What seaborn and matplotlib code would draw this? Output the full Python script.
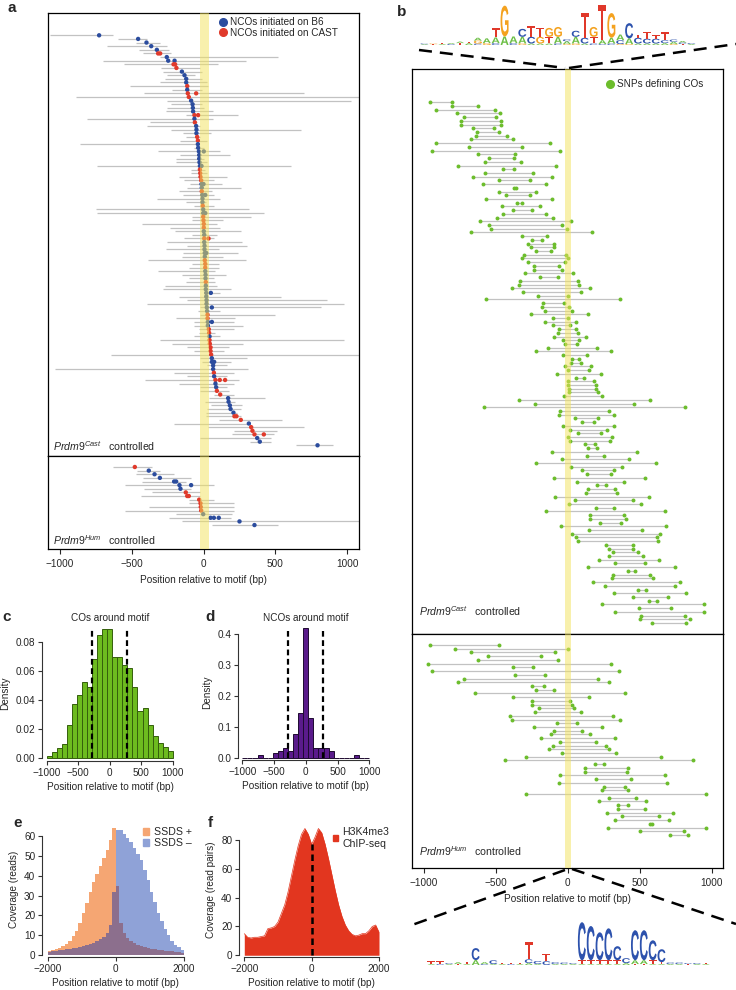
import numpy as np
import pandas as pd
import matplotlib
matplotlib.use("Agg")
import matplotlib.pyplot as plt
import seaborn as sns
from matplotlib.textpath import TextPath
from matplotlib.patches import PathPatch, Patch
from matplotlib.font_manager import FontProperties
from matplotlib.transforms import Affine2D
from matplotlib.lines import Line2D

# ---------------- DATA ----------------
# Panel a: NCO tracts, Prdm9 Cast (left bound, right bound, converted SNPs, initiating strain)
a_cast_left = [-1067, -595, -472, -669, -449, -421, -299, -697, -553, -292, -280, -252, -264, -299, -512, -218,
               -414, -889, -252, -229, -252, -257, -125, -808, -373, -391, -229, -141, -125, -160, -859, -67,
               -317, -160, -194, -190, -738, -90, -90, -171, -137, -95, -113, -171, -141, -322, -125, -67,
               -750, -738, -83, -79, -426, -234, -199, -79, -132, -252, -113, -257, -141, -150, -387, -79,
               -102, -317, -148, -102, -125, -264, -280, 2, -167, -113, -391, -21, -39, -21, -188, -67,
               -67, -32, -30, -67, -299, -218, -113, -67, -639, -25, -9, 25, -1028, -206, -113, -407,
               -171, -25, -21, 72, 39, 7, 49, 25, 14, 19, 106, -206, 30, 211, 199, -21, 326, 639]
a_cast_right = [-627, -391, -299, -252, -241, -229, 516, 292, 102, -21, -9, -56, -9, 25, 30, -9,
                701, 1086, 1026, -9, 2, 65, 238, 67, -44, -25, 678, 49, -21, 25, -44, 2,
                118, 183, 2, 25, 609, 7, 25, 160, 72, 127, 257, 60, 76, 113, 14, 72,
                315, 419, 331, 137, 95, 118, 257, 95, 72, 269, 303, 106, 238, 134, 292, 106,
                111, 83, 153, 72, 83, 95, 188, 113, 539, 859, 979, 813, 118, 500, 222, 211,
                275, 211, 83, 118, 975, 275, 176, 141, 1086, 299, 192, 164, 308, 211, 164, 245,
                211, 164, 176, 211, 424, 222, 269, 257, 234, 257, 542, 326, 697, 512, 488, 470, 470, 898]
a_cast_snps = [[-725], [-454], [-396], [-363], [-324], [-315, -301], [-255], [-245, -201], [-208, -197],
               [-188], [-150], [-132], [-120], [-120], [-113], [-113], [-109, -51], [-102], [-86], [-76],
               [-74], [-72], [-63, -37], [-63], [-60], [-51], [-49], [-49], [-44], [-39], [-39], [-37],
               [-32, 2], [-30], [-30], [-28], [-25, -14], [-25], [-23], [-21], [-16], [-14, 0], [-12],
               [-12], [-9, 12], [-7], [-7], [-5], [-2], [-2, 12], [-2], [0], [2], [2], [2], [5], [5, 35],
               [5], [7], [7], [9, 19], [9], [9], [12], [12], [12], [14], [14], [16], [16], [16], [19, 51],
               [19], [21], [21], [23, 58], [25], [28], [28], [30, 58], [30], [37], [39], [42], [42], [44],
               [49], [49], [53], [58], [58, 74], [67], [67], [72], [74], [83, 113, 150], [83], [88], [93],
               [116], [171], [174], [183], [188], [208], [215, 229], [259], [315], [331], [340], [354, 419],
               [373], [391], [792]]
a_cast_init = list("BBBBB" "C" "B" "B" "CC" "BBBB" "C" "B" "CC" "BBBB" "C" "B" "C" "BBB" "CC" "BBBBBBB"
                   "CCCC" "BB" "C" "BBB" "C" "BB" "CCCC" "BB" "C" "BBBBB" "CCC" "BBB" "C" "BBBBBBBB"
                   "CC" "BB" "CC" "B" "CCCCC" "BBBB" "C" "B" "C" "BB" "CC" "BBBBB" "CC" "B" "CCC" "BBB")

# Panel a: Prdm9 Hum
a_hum_left = [-627, -461, -472, -419, -426, -542, -414, -357, -433, -102, -102, -380, -546, -194, -241, -148, 60]
a_hum_right = [-361, -299, -206, -90, -125, 72, -90, -21, -21, 72, 211, 211, 211, 199, 188, 1086, 516]
a_hum_snps = [[-477], [-380], [-340], [-303], [-204, -190], [-167, -86], [-160], [-123], [-113, -102],
              [-30], [-21], [-19], [-16], [-2], [49, 72, 106], [250], [354]]
a_hum_init = list("CBBBBBBCCCCCCBBBB")

# Panel b: CO tracts (SNPs defining COs), Prdm9 Cast
b_cast_left = [-954, -803, -912, -769, -722, -741, -741, -655, -632, -637, -674, -912, -683, -945, -627, -544,
               -576, -762, -451, -576, -657, -479, -588, -375, -479, -428, -569, -350, -458, -382, -451, -495,
               -609, -546, -530, -669, -319, -248, -275, -257, -218, -303, -315, -278, -234, -232, -299, -194,
               -333, -336, -389, -310, -208, -567, -174, -178, -155, -259, -102, -157, -106, -63, -69, -95,
               -32, -21, -139, -220, -32, 32, 23, -21, -2, -72, 58, -2, 2, 5, 9, -23, -338, -229, -579,
               -51, -60, 53, 100, -32, 12, 69, -2, 16, 120, 139,
               -113, 134, -39, -222, 21, 100, 132, -95, 65, 204, 139, 127, -90, 51, 7, 197, -148, 155,
               155, 222, -49, 144, 30, 60, 72, 264, 285, 317, 287, 218, 326, 141, 417, 315, 306, 176,
               255, 491, 319, 451, 563, 238, 495, 326, 509, 502, 586]
b_cast_right = [-803, -627, -509, -472, -498, -461, -461, -514, -477, -419, -380, -123, -317, -51, -366, -375,
                -324, -79, -373, -241, -109, -264, -148, -359, -222, -266, -111, -315, -190, -252, -148, -100,
                21, -39, -7, 167, -144, -181, -97, -97, -116, -12, -2, -21, -60, -42, 35, -67,
                74, 76, 153, 90, -2, 363, -25, 7, 28, 137, -2, 58, 16, 56, 69, 125,
                76, 65, 206, 299, 134, 79, 90, 160, 144, 229, 113, 185, 197, 194, 208, 241, 569, 463, 817,
                289, 319, 213, 181, 319, 273, 229, 306, 294, 192, 204,
                484, 250, 424, 616, 375, 319, 301, 537, 389, 262, 326, 340, 567, 454, 505, 319, 674, 387,
                407, 370, 683, 514, 639, 618, 625, 451, 451, 488, 523, 630, 535, 743, 470, 572, 590, 782,
                748, 542, 820, 694, 620, 949, 718, 949, 813, 852, 824]

# Panel b: Prdm9 Hum
b_hum_left = [-958, -785, -669, -553, -623, -970, -380, -945, -368, -720, -762, -248, -222, -644, -382, -250,
              -248, -199, -225, -400, -389, -74, -234, -95, -120, -183, -51, -106, -134, -39, -289, -435,
              190, 120, 118, -53, 194, -58, 250, 236, -292, 287, 215, 352, 347, 269, 375, 326, 574, 280, 498, 711]
b_hum_right = [-475, 0, -90, -188, -67, 301, -245, 354, -160, 208, 285, -167, -97, 394, 150, 16,
               30, 42, 90, 315, 366, 65, 238, 100, 153, 331, 199, 264, 289, 336, 648, 868,
               250, 417, 414, 678, 438, 688, 398, 417, 961, 472, 544, 421, 535, 732, 634, 701, 583, 963, 810, 833]

# Panel c: CO positions histogram (density per 80 bp bin)
c_edges = list(range(-1000, 1001, 80))
c_density = [0.0016, 0.0039, 0.0069, 0.0098, 0.0229, 0.0370, 0.0434, 0.0526, 0.0487, 0.0679, 0.0846,
             0.0885, 0.0885, 0.0693, 0.0693, 0.0638, 0.0617, 0.0487, 0.0325, 0.0347, 0.0229, 0.0155,
             0.0103, 0.0073, 0.0050]
# Panel d: NCO positions histogram
d_edges = list(range(-1000, 1001, 80))
d_density = [0, 0, 0, 0.0097, 0, 0, 0.017, 0.025, 0.034, 0.025, 0.0785, 0.147, 0.419, 0.129,
             0.034, 0.034, 0.034, 0.025, 0, 0, 0, 0, 0.0097, 0, 0]
ci_bounds = [-278, 278]

# Panel e: SSDS coverage (100 bp bins, -2000..2000)
e_edges = list(range(-2000, 2001, 100))
e_plus = [2, 2.5, 3, 3.5, 4.5, 5.5, 7, 9.5, 12, 16, 21, 26, 32, 37, 41, 45, 49, 53, 58, 64,
          35, 16, 11, 8.5, 7, 6, 5, 4.5, 4, 3.5, 3, 3, 2.5, 2.5, 2, 2, 2, 1.5, 1.5, 1]
e_minus = [1.5, 2, 2, 2.5, 2.5, 3, 3, 3.5, 3.5, 4, 4.5, 5, 5.5, 6, 7, 8, 9, 11, 15, 32,
           63, 63, 61, 59, 57, 54, 51, 48, 43, 38, 32, 27, 21, 17, 13, 10, 7, 5, 4, 2.5]

# Panel f: H3K4me3 coverage
f_pos = list(range(-2000, 2001, 100))
f_cov = [15, 12.5, 12, 12.5, 12.5, 13, 13.5, 18.5, 19, 20, 23, 29, 35, 44, 55, 66, 76, 84, 88, 84,
         77, 82, 88, 85, 77, 67, 56, 45, 35, 27, 21, 17, 14.5, 13.5, 14, 15, 15, 17, 20, 21, 16]

# Sequence logos (columns: list of (letter, bits) from bottom to top)
logo_top = [[('A', .04), ('C', .04)], [('T', .04), ('G', .04)], [('A', .05), ('T', .05)], [('C', .05), ('A', .05)],
            [('T', .1), ('A', .08)], [('A', .1), ('T', .08)], [('C', .08), ('G', .15), ('A', .15)],
            [('G', .1), ('A', .25)], [('C', .1), ('A', .3), ('T', .47)], [('A', .45), ('G', 1.62)],
            [('C', .1), ('A', .35)], [('G', .08), ('A', .35), ('C', .42)], [('A', .08), ('C', .35), ('T', .58)],
            [('A', .08), ('G', .35), ('T', .47)], [('A', .08), ('T', .35), ('G', .47)],
            [('C', .08), ('A', .35), ('G', .52)], [('G', .05), ('A', .15), ('C', .1)],
            [('G', .08), ('A', .35), ('C', .32)], [('A', .08), ('C', .3), ('T', 1.3)],
            [('C', .08), ('T', .35), ('G', .52)], [('C', .05), ('A', .2), ('T', 1.85)],
            [('C', .08), ('A', .3), ('G', 1.3)], [('G', .05), ('C', .2), ('A', .3)],
            [('G', .05), ('A', .3), ('C', .8)], [('A', .08), ('C', .3), ('T', .16)],
            [('A', .08), ('C', .25), ('T', .37)], [('A', .08), ('C', .25), ('T', .2)],
            [('A', .1), ('C', .15), ('T', .42)], [('G', .05), ('A', .12), ('C', .12)],
            [('T', .05), ('C', .08), ('A', .08)], [('A', .05), ('C', .05)]]
logo_bottom = [[('A', .05), ('T', .16)], [('C', .05), ('T', .16)], [('A', .05), ('C', .05)], [('T', .05), ('A', .1)],
               [('A', .05), ('T', .1)], [('A', .26), ('C', .63)], [('C', .05), ('A', .1)], [('A', .05), ('C', .2)],
               [('A', .05), ('T', .05)], [('C', .05), ('T', .08)], [('A', .05), ('T', .08)],
               [('A', .1), ('C', .2), ('T', .9)], [('A', .05), ('C', .16)], [('C', .2), ('T', .37)],
               [('A', .05), ('C', .1)], [('A', .05), ('C', .08)], [('A', .05), ('C', .05)],
               [('A', .05), ('T', .2), ('C', 2.0)], [('A', .05), ('T', .2), ('C', 1.8)],
               [('A', .05), ('T', .2), ('C', 1.47)], [('A', .05), ('T', .2), ('C', 1.68)],
               [('A', .05), ('T', .2), ('C', .74)], [('A', .1), ('C', .26)],
               [('T', .05), ('A', .2), ('C', 1.58)], [('T', .05), ('A', .2), ('C', 1.58)],
               [('A', .05), ('T', .2), ('C', 1.05)], [('A', .05), ('T', .1), ('C', .68)],
               [('A', .05), ('C', .08)], [('A', .05), ('C', .08)], [('T', .05), ('C', .05)],
               [('A', .05), ('C', .05)], [('A', .05), ('T', .05)]]

# ---------------- STYLE ----------------
sns.set_style("ticks")
plt.rcParams['font.family'] = ['Liberation Sans', 'DejaVu Sans']
plt.rcParams['mathtext.fontset'] = 'custom'
plt.rcParams['mathtext.it'] = 'Liberation Sans:italic'
plt.rcParams['mathtext.rm'] = 'Liberation Sans'
plt.rcParams['axes.linewidth'] = 0.8
plt.rcParams['xtick.major.width'] = 0.8
plt.rcParams['ytick.major.width'] = 0.8

FS = 7.2
BLUE, RED = '#2b4c9e', '#e03a2b'
GREEN_DOT = '#6cbd2c'
BAND = '#f3e35a'
LOGO_COL = {'A': '#6cbf45', 'C': '#2d52ad', 'G': '#f4a21f', 'T': '#e0382a'}

W, H = 736, 990
fig = plt.figure(figsize=(W / 100, H / 100), dpi=100)


def add_ax(x0, y0, x1, y1):
    return fig.add_axes([x0 / W, 1 - y1 / H, (x1 - x0) / W, (y1 - y0) / H])


def ftext(x, y, s, **kw):
    fig.text(x / W, 1 - y / H, s, **kw)


def fline(x0, y0, x1, y1):
    fig.add_artist(Line2D([x0 / W, x1 / W], [1 - y0 / H, 1 - y1 / H], transform=fig.transFigure,
                          color='black', lw=1.8, dashes=(5.2, 3.2)))


def box_axes(ax):
    for s in ax.spines.values():
        s.set_visible(True)
        s.set_color('black')
        s.set_linewidth(0.9)
    ax.set_yticks([])
    ax.tick_params(axis='x', length=3.5, pad=4, labelsize=FS)


# ---------------- PANEL a ----------------
def draw_nco(ax, left, right, snps, init, band):
    n = min(len(left), len(right), len(snps), len(init))
    rows = np.arange(n)
    ax.hlines(rows, left[:n], right[:n], color='#c2c2c2', lw=0.9, zorder=1)
    recs = [(p, i, 'B6' if init[i] == 'B' else 'CAST') for i in range(n) for p in snps[i]]
    df = pd.DataFrame(recs, columns=['pos', 'row', 'init'])
    sns.scatterplot(data=df, x='pos', y='row', hue='init', palette={'B6': BLUE, 'CAST': RED},
                    s=10, linewidth=0, legend=False, ax=ax, zorder=3)
    ax.axvspan(band[0], band[1], color=BAND, alpha=0.5, lw=0, zorder=4)
    ax.set_xlim(-1080, 1080)
    ax.set_xlabel('')
    ax.set_ylabel('')


ax_a1 = add_ax(48, 12.7, 359, 456)
draw_nco(ax_a1, a_cast_left, a_cast_right, a_cast_snps, a_cast_init, (-21, 37))
ax_a1.set_ylim(115.95, -6.23)
box_axes(ax_a1)
ax_a1.set_xticks([])

ax_a2 = add_ax(48, 456, 359, 549)
draw_nco(ax_a2, a_hum_left, a_hum_right, a_hum_snps, a_hum_init, (-21, 37))
ax_a2.set_ylim(22.6, -3.03)
box_axes(ax_a2)
ax_a2.set_xticks([-1000, -500, 0, 500, 1000])
ax_a2.set_xlabel('Position relative to motif (bp)', fontsize=FS, labelpad=4)

leg_a = ax_a1.legend(handles=[Line2D([], [], marker='o', ls='', color=BLUE, markersize=5.5, label='NCOs initiated on B6'),
                              Line2D([], [], marker='o', ls='', color=RED, markersize=5.5, label='NCOs initiated on CAST')],
                     loc='upper left', bbox_to_anchor=(219 / W, 1 - 17 / H), bbox_transform=fig.transFigure,
                     frameon=False, fontsize=FS, handlelength=0.8, handletextpad=0.3, borderpad=0,
                     borderaxespad=0, labelspacing=0.05)
leg_a.set_zorder(10)

ftext(53, 446, r'$\mathit{Prdm9}^{\mathit{Cast}}$   controlled', fontsize=7.6, va='center')
ftext(53, 540, r'$\mathit{Prdm9}^{\mathit{Hum}}$   controlled', fontsize=7.6, va='center')


# ---------------- PANEL b ----------------
def draw_co(ax, left, right, band):
    n = min(len(left), len(right))
    rows = np.arange(n)
    ax.hlines(rows, left[:n], right[:n], color='#c2c2c2', lw=0.9, zorder=1)
    df = pd.DataFrame({'pos': list(left[:n]) + list(right[:n]), 'row': list(rows) + list(rows)})
    sns.scatterplot(data=df, x='pos', y='row', color=GREEN_DOT, s=8, linewidth=0, legend=False, ax=ax, zorder=3)
    ax.axvspan(band[0], band[1], color=BAND, alpha=0.5, lw=0, zorder=4)
    ax.set_xlim(-1080, 1080)
    ax.set_xlabel('')
    ax.set_ylabel('')


ax_b1 = add_ax(412.3, 69, 723.3, 634)
draw_co(ax_b1, b_cast_left, b_cast_right, (-20, 25))
ax_b1.set_ylim(142.96, -8.95)
box_axes(ax_b1)
ax_b1.set_xticks([])

ax_b2 = add_ax(412.3, 634, 723.3, 868)
draw_co(ax_b2, b_hum_left, b_hum_right, (-20, 25))
ax_b2.set_ylim(59.86, -2.95)
box_axes(ax_b2)
ax_b2.set_xticks([-1000, -500, 0, 500, 1000])
ax_b2.set_xlabel('Position relative to motif (bp)', fontsize=FS, labelpad=4)

leg_b = ax_b1.legend(handles=[Line2D([], [], marker='o', ls='', color=GREEN_DOT, markersize=5.5, label='SNPs defining COs')],
                     loc='upper left', bbox_to_anchor=(606 / W, 1 - 79 / H), bbox_transform=fig.transFigure,
                     frameon=False, fontsize=FS, handlelength=0.8, handletextpad=0.3, borderpad=0, borderaxespad=0)

ftext(419, 611, r'$\mathit{Prdm9}^{\mathit{Cast}}$   controlled', fontsize=7.6, va='center')
ftext(419, 851, r'$\mathit{Prdm9}^{\mathit{Hum}}$   controlled', fontsize=7.6, va='center')


# ---------------- PANEL c / d ----------------
def r_axes(ax, ybounds, xbounds):
    sns.despine(ax=ax)
    ax.spines['left'].set_bounds(*ybounds)
    ax.spines['bottom'].set_bounds(*xbounds)
    ax.spines['left'].set_color('#333333')
    ax.spines['bottom'].set_color('#333333')
    ax.tick_params(length=3, pad=2, labelsize=FS, color='#333333')


def hist_df(edges, vals):
    centers = [(a + b) / 2 for a, b in zip(edges[:-1], edges[1:])]
    return pd.DataFrame({'pos': centers, 'w': vals})


def hist_panel(ax, edges, dens, color, edge):
    sns.histplot(data=hist_df(edges, dens), x='pos', weights='w', bins=edges, stat='count',
                 color=color, edgecolor=edge, linewidth=0.7, alpha=1, ax=ax)
    ax.set_xlabel('Position relative to motif (bp)', fontsize=FS, labelpad=3)
    ax.set_ylabel('Density', fontsize=FS, labelpad=4)


ax_c = add_ax(42.3, 625, 177.8, 761)
hist_panel(ax_c, c_edges, c_density, '#6dbb1f', '#355f0c')
ax_c.vlines(ci_bounds, 0, 0.0885, colors='black', lw=1.6, linestyles=(0, (2.6, 1.6)), zorder=5)
ax_c.set_xlim(-1070, 1080)
ax_c.set_ylim(-0.002, 0.0915)
ax_c.set_xticks([-1000, -500, 0, 500, 1000])
ax_c.set_yticks([0, 0.02, 0.04, 0.06, 0.08])
ax_c.set_yticklabels(['0.00', '0.02', '0.04', '0.06', '0.08'])
r_axes(ax_c, (0, 0.08), (-1000, 1000))
ax_c.set_title('COs around motif', fontsize=FS, pad=3)

ax_d = add_ax(238.3, 625, 373.3, 760)
hist_panel(ax_d, d_edges, d_density, '#5a1b8b', '#1e0a30')
ax_d.vlines(ci_bounds, 0, 0.41, colors='black', lw=1.6, linestyles=(0, (2.6, 1.6)), zorder=5)
ax_d.set_xlim(-1063, 1063)
ax_d.set_ylim(-0.0055, 0.43)
ax_d.set_xticks([-1000, -500, 0, 500, 1000])
ax_d.set_yticks([0, 0.1, 0.2, 0.3, 0.4])
ax_d.set_yticklabels(['0.0', '0.1', '0.2', '0.3', '0.4'])
r_axes(ax_d, (0, 0.4), (-1000, 1000))
ax_d.set_title('NCOs around motif', fontsize=FS, pad=3)

# ---------------- PANEL e ----------------
ax_e = add_ax(42.3, 822, 189, 957)
e_overlap = [min(p, m) for p, m in zip(e_plus, e_minus)]
for vals, col in [(e_plus, '#f5a673'), (e_minus, '#8fa2d7'), (e_overlap, '#8c6f8d')]:
    sns.histplot(data=hist_df(e_edges, vals), x='pos', weights='w', bins=e_edges, element='step',
                 fill=True, color=col, alpha=1, linewidth=0, ax=ax_e)
ax_e.set_xlim(-2158, 2146)
ax_e.set_ylim(-0.85, 66.9)
ax_e.set_xticks([-2000, 0, 2000])
ax_e.set_yticks([0, 10, 20, 30, 40, 50, 60])
r_axes(ax_e, (0, 60), (-2000, 2000))
ax_e.set_xlabel('Position relative to motif (bp)', fontsize=FS, labelpad=3)
ax_e.set_ylabel('Coverage (reads)', fontsize=FS, labelpad=4)
ax_e.legend(handles=[Patch(color='#f5a673', label='SSDS +'), Patch(color='#8fa2d7', label='SSDS \u2013')],
            loc='upper left', bbox_to_anchor=(143 / W, 1 - 827 / H), bbox_transform=fig.transFigure,
            frameon=False, fontsize=7.6, handlelength=0.6, handleheight=0.6, handletextpad=0.4,
            borderpad=0, borderaxespad=0, labelspacing=0.1)

# ---------------- PANEL f ----------------
ax_f = add_ax(239.3, 822, 384, 957)
sns.lineplot(x=f_pos, y=f_cov, color='#e2361f', lw=0.5, ax=ax_f)
ax_f.fill_between(f_pos, 0, f_cov, color='#e2361f', lw=0)
ax_f.vlines([0], 0, 77, colors='black', lw=1.8, linestyles=(0, (2.6, 1.6)), zorder=5)
ax_f.set_xlim(-2148, 2148)
ax_f.set_ylim(-1.2, 92.5)
ax_f.set_xticks([-2000, 0, 2000])
ax_f.set_yticks([0, 20, 40, 60, 80])
r_axes(ax_f, (0, 80), (-2000, 2000))
ax_f.set_xlabel('Position relative to motif (bp)', fontsize=FS, labelpad=3)
ax_f.set_ylabel('Coverage (read pairs)', fontsize=FS, labelpad=4)
ax_f.legend(handles=[Patch(color='#e2361f', label='H3K4me3\nChIP-seq')],
            loc='upper left', bbox_to_anchor=(333 / W, 1 - 827 / H), bbox_transform=fig.transFigure,
            frameon=False, fontsize=7.6, handlelength=0.5, handleheight=0.5, handletextpad=0.4,
            borderpad=0, borderaxespad=0)

# ---------------- LOGOS ----------------
fp_logo = FontProperties(family='Liberation Sans', weight='bold')


def draw_letter(ax, ch, x, y, w, h):
    tp = TextPath((0, 0), ch, size=1, prop=fp_logo)
    bb = tp.get_extents()
    tr = Affine2D().translate(-bb.x0, -bb.y0).scale(w / bb.width, h / bb.height).translate(x, y)
    ax.add_patch(PathPatch(tr.transform_path(tp), facecolor=LOGO_COL[ch], edgecolor='none'))


def draw_logo(ax, cols, ymax):
    for i, col in enumerate(cols):
        y = 0
        for ch, h in col:
            draw_letter(ax, ch, i + 0.05, y, 0.9, h)
            y += h
    ax.set_xlim(0, len(cols))
    ax.set_ylim(0, ymax)
    ax.axis('off')


ax_lt = add_ax(420, 0, 420 + 31 * 8.9, 45)
draw_logo(ax_lt, logo_top, 45 / 19)
ax_lb = add_ax(427, 917.5, 427 + 32 * 8.85, 965)
draw_logo(ax_lb, logo_bottom, 47.5 / 19)

# zoom dashed lines
fline(419, 50, 565, 68)
fline(569, 68, 736, 44)
fline(565, 870, 412, 925)
fline(572, 869, 736, 924)

# panel letters
for lab, x, y in [('a', 7, 8), ('b', 397, 12), ('c', 2, 617), ('d', 205, 617), ('e', 13, 823), ('f', 208, 823)]:
    ftext(x, y, lab, fontsize=11, fontweight='bold', va='center', ha='left')

fig.savefig('out.png', dpi=100)
